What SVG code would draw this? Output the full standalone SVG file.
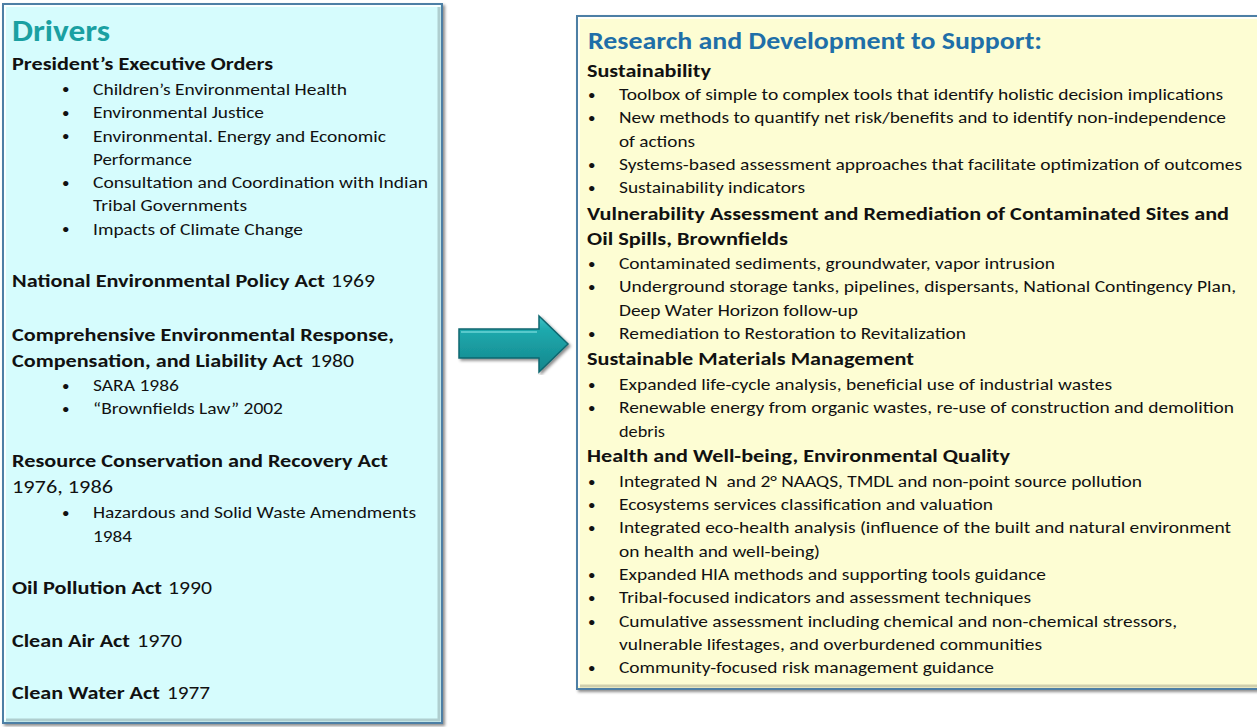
<svg xmlns="http://www.w3.org/2000/svg" width="1257" height="727" viewBox="0 0 1257 727">
<defs>
<filter id="sh" x="-5%" y="-5%" width="110%" height="110%">
<feDropShadow dx="2" dy="2" stdDeviation="1.6" flood-color="#000" flood-opacity="0.45"/>
</filter>
<linearGradient id="arrowG" x1="0" y1="0" x2="0" y2="1">
<stop offset="0" stop-color="#3fc3c6"/>
<stop offset="0.25" stop-color="#1fa9ad"/>
<stop offset="1" stop-color="#13868c"/>
</linearGradient>
<style>
text{font-family:Carlito,Lato,"Open Sans",sans-serif;fill:#111;}
.b{font-size:17px;}
.h{font-size:18.5px;font-weight:bold;}
.y{font-size:18.5px;}
.bl{font-size:15px;}
.box{stroke:#4d7fa5;stroke-width:2;}
.hl{fill:none;stroke:#ffffff;stroke-opacity:0.8;stroke-width:2;}
.dk{fill:none;stroke:#000;stroke-opacity:0.18;stroke-width:3;}
</style>
</defs>

<g id="drivers">
<rect class="box" x="3" y="4" width="439" height="719" fill="#d6fcfd" filter="url(#sh)"/>
<polyline class="hl" points="5,720 5,6 440,6"/>
<polyline class="dk" points="6,720 439,720 439,7"/>
<text x="12" y="41" font-size="30" font-weight="bold" style="fill:#1aa0a2" textLength="98" lengthAdjust="spacingAndGlyphs">Drivers</text>
<text class="h" x="12" y="70" textLength="261" lengthAdjust="spacingAndGlyphs">President’s Executive Orders</text>
<g class="bl"><text class="bl" x="62" y="94">•</text><text class="bl" x="62" y="118">•</text><text class="bl" x="62" y="141">•</text><text class="bl" x="62" y="188">•</text><text class="bl" x="62" y="234">•</text><text class="bl" x="62" y="391">•</text><text class="bl" x="62" y="414">•</text><text class="bl" x="62" y="518">•</text></g>
<text class="b" x="93" y="94.5" textLength="254" lengthAdjust="spacingAndGlyphs">Children’s Environmental Health</text>
<text class="b" x="93" y="118" textLength="171" lengthAdjust="spacingAndGlyphs">Environmental Justice</text>
<text class="b" x="93" y="141.5" textLength="293" lengthAdjust="spacingAndGlyphs">Environmental. Energy and Economic</text>
<text class="b" x="93" y="164.5" textLength="99" lengthAdjust="spacingAndGlyphs">Performance</text>
<text class="b" x="93" y="188" textLength="335" lengthAdjust="spacingAndGlyphs">Consultation and Coordination with Indian</text>
<text class="b" x="93" y="211" textLength="154" lengthAdjust="spacingAndGlyphs">Tribal Governments</text>
<text class="b" x="93" y="234.5" textLength="210" lengthAdjust="spacingAndGlyphs">Impacts of Climate Change</text>
<text class="h" x="12" y="286.5" textLength="313" lengthAdjust="spacingAndGlyphs">National Environmental Policy Act</text>
<text class="y" x="331" y="286.5" textLength="44" lengthAdjust="spacingAndGlyphs">1969</text>
<text class="h" x="12" y="340.5" textLength="382" lengthAdjust="spacingAndGlyphs">Comprehensive Environmental Response,</text>
<text class="h" x="12" y="366.5" textLength="291" lengthAdjust="spacingAndGlyphs">Compensation, and Liability Act</text>
<text class="y" x="310" y="366.5" textLength="44" lengthAdjust="spacingAndGlyphs">1980</text>
<text class="b" x="93" y="390.5" textLength="86" lengthAdjust="spacingAndGlyphs">SARA 1986</text>
<text class="b" x="93" y="414" textLength="190" lengthAdjust="spacingAndGlyphs">“Brownfields Law” 2002</text>
<text class="h" x="12" y="467" textLength="376" lengthAdjust="spacingAndGlyphs">Resource Conservation and Recovery Act</text>
<text class="y" x="12" y="493" textLength="101" lengthAdjust="spacingAndGlyphs">1976, 1986</text>
<text class="b" x="93" y="518" textLength="323" lengthAdjust="spacingAndGlyphs">Hazardous and Solid Waste Amendments</text>
<text class="b" x="93" y="541.5" textLength="39" lengthAdjust="spacingAndGlyphs">1984</text>
<text class="h" x="12" y="594" textLength="150" lengthAdjust="spacingAndGlyphs">Oil Pollution Act</text>
<text class="y" x="168" y="594" textLength="44" lengthAdjust="spacingAndGlyphs">1990</text>
<text class="h" x="12" y="646.5" textLength="118" lengthAdjust="spacingAndGlyphs">Clean Air Act</text>
<text class="y" x="137" y="646.5" textLength="45" lengthAdjust="spacingAndGlyphs">1970</text>
<text class="h" x="12" y="699" textLength="148" lengthAdjust="spacingAndGlyphs">Clean Water Act</text>
<text class="y" x="167" y="699" textLength="43" lengthAdjust="spacingAndGlyphs">1977</text>
</g>

<g id="connectors">
<polygon points="459,329 539,329 539,316 568,344 539,372 539,358 459,358" fill="url(#arrowG)" stroke="#0f6770" stroke-width="1.5" stroke-linejoin="miter" filter="url(#sh)"/>
<polyline points="461,332 537,332" fill="none" stroke="#7fe0e2" stroke-width="1.5" stroke-opacity="0.8"/>
</g>

<g id="research">
<rect class="box" x="577" y="16" width="682" height="673" fill="#fdfdd3" filter="url(#sh)"/>
<polyline class="hl" points="579,686 579,18 1257,18"/>
<polyline class="dk" points="580,686 1257,686"/>
<text x="588" y="49" font-size="24" font-weight="bold" style="fill:#1f6fa8" textLength="454" lengthAdjust="spacingAndGlyphs">Research and Development to Support:</text>
<text class="h" x="587" y="77" textLength="124" lengthAdjust="spacingAndGlyphs">Sustainability</text>
<g><text class="bl" x="588" y="100">•</text><text class="bl" x="588" y="123">•</text><text class="bl" x="588" y="170">•</text><text class="bl" x="588" y="193">•</text><text class="bl" x="588" y="269">•</text><text class="bl" x="588" y="292">•</text><text class="bl" x="588" y="339">•</text><text class="bl" x="588" y="390">•</text><text class="bl" x="588" y="413">•</text><text class="bl" x="588" y="487">•</text><text class="bl" x="588" y="510">•</text><text class="bl" x="588" y="533">•</text><text class="bl" x="588" y="580">•</text><text class="bl" x="588" y="603">•</text><text class="bl" x="588" y="627">•</text><text class="bl" x="588" y="673">•</text></g>
<text class="b" x="619" y="100" textLength="604" lengthAdjust="spacingAndGlyphs">Toolbox of simple to complex tools that identify holistic decision implications</text>
<text class="b" x="619" y="123" textLength="607" lengthAdjust="spacingAndGlyphs">New methods to quantify net risk/benefits and to identify non-independence</text>
<text class="b" x="619" y="147" textLength="76" lengthAdjust="spacingAndGlyphs">of actions</text>
<text class="b" x="619" y="170" textLength="623" lengthAdjust="spacingAndGlyphs">Systems-based assessment approaches that facilitate optimization of outcomes</text>
<text class="b" x="619" y="193" textLength="186" lengthAdjust="spacingAndGlyphs">Sustainability indicators</text>
<text class="h" x="587" y="220" textLength="642" lengthAdjust="spacingAndGlyphs">Vulnerability Assessment and Remediation of Contaminated Sites and</text>
<text class="h" x="587" y="245" textLength="201" lengthAdjust="spacingAndGlyphs">Oil Spills, Brownfields</text>
<text class="b" x="619" y="269" textLength="436" lengthAdjust="spacingAndGlyphs">Contaminated sediments, groundwater, vapor intrusion</text>
<text class="b" x="619" y="292" textLength="617" lengthAdjust="spacingAndGlyphs">Underground storage tanks, pipelines, dispersants, National Contingency Plan,</text>
<text class="b" x="619" y="316" textLength="239" lengthAdjust="spacingAndGlyphs">Deep Water Horizon follow-up</text>
<text class="b" x="619" y="339" textLength="347" lengthAdjust="spacingAndGlyphs">Remediation to Restoration to Revitalization</text>
<text class="h" x="587" y="365" textLength="327" lengthAdjust="spacingAndGlyphs">Sustainable Materials Management</text>
<text class="b" x="619" y="390" textLength="493" lengthAdjust="spacingAndGlyphs">Expanded life-cycle analysis, beneficial use of industrial wastes</text>
<text class="b" x="619" y="413" textLength="615" lengthAdjust="spacingAndGlyphs">Renewable energy from organic wastes, re-use of construction and demolition</text>
<text class="b" x="619" y="437" textLength="46" lengthAdjust="spacingAndGlyphs">debris</text>
<text class="h" x="587" y="462" textLength="423" lengthAdjust="spacingAndGlyphs">Health and Well-being, Environmental Quality</text>
<text class="b" x="619" y="487" textLength="523" lengthAdjust="spacingAndGlyphs" style="white-space:pre">Integrated N  and 2° NAAQS, TMDL and non-point source pollution</text>
<text class="b" x="619" y="510" textLength="374" lengthAdjust="spacingAndGlyphs">Ecosystems services classification and valuation</text>
<text class="b" x="619" y="533" textLength="612" lengthAdjust="spacingAndGlyphs">Integrated eco-health analysis (influence of the built and natural environment</text>
<text class="b" x="619" y="557" textLength="201" lengthAdjust="spacingAndGlyphs">on health and well-being)</text>
<text class="b" x="619" y="580" textLength="427" lengthAdjust="spacingAndGlyphs">Expanded HIA methods and supporting tools guidance</text>
<text class="b" x="619" y="603" textLength="412" lengthAdjust="spacingAndGlyphs">Tribal-focused indicators and assessment techniques</text>
<text class="b" x="619" y="627" textLength="558" lengthAdjust="spacingAndGlyphs">Cumulative assessment including chemical and non-chemical stressors,</text>
<text class="b" x="619" y="650" textLength="423" lengthAdjust="spacingAndGlyphs">vulnerable lifestages, and overburdened communities</text>
<text class="b" x="619" y="673" textLength="375" lengthAdjust="spacingAndGlyphs">Community-focused risk management guidance</text>
</g>
</svg>
